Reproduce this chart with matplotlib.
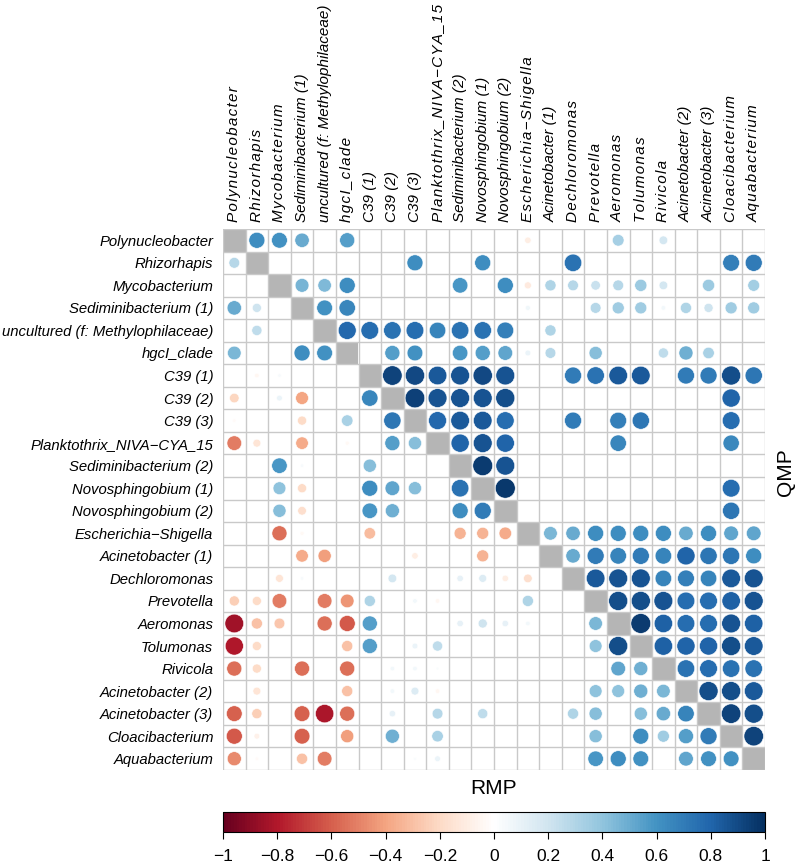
import numpy as np
import matplotlib
matplotlib.use("Agg")
import matplotlib.pyplot as plt
from matplotlib.colors import LinearSegmentedColormap, Normalize
from matplotlib.patches import Circle, Rectangle
from matplotlib.colorbar import ColorbarBase

plt.rcParams["font.family"] = ["Liberation Sans", "DejaVu Sans"]

taxa = [
    "Polynucleobacter", "Rhizorhapis", "Mycobacterium", "Sediminibacterium (1)",
    "uncultured (f: Methylophilaceae)", "hgcI_clade", "C39 (1)", "C39 (2)", "C39 (3)",
    "Planktothrix_NIVA\u2212CYA_15", "Sediminibacterium (2)", "Novosphingobium (1)",
    "Novosphingobium (2)", "Escherichia\u2212Shigella", "Acinetobacter (1)", "Dechloromonas",
    "Prevotella", "Aeromonas", "Tolumonas", "Rivicola", "Acinetobacter (2)",
    "Acinetobacter (3)", "Cloacibacterium", "Aquabacterium",
]

# column labels that R drew with wide letter spacing
spaced = {"Polynucleobacter", "Rhizorhapis", "Mycobacterium", "hgcI_clade",
          "Planktothrix_NIVA\u2212CYA_15", "Escherichia\u2212Shigella", "Dechloromonas",
          "Prevotella", "Aeromonas", "Tolumonas", "Rivicola", "Cloacibacterium",
          "Aquabacterium"}

# upper triangle = QMP, lower triangle = RMP, nan = not significant (blank)
n = np.nan
corr = np.array([
    [1, .62, .6, .5, n, .55, n, n, n, n, n, n, n, -.1, n, n, n, .33, n, .18, n, n, n, n],
    [.28, 1, n, n, n, n, n, n, .62, n, n, .62, n, n, n, .74, n, n, n, n, n, n, .68, .7],
    [n, n, 1, .46, .44, .62, n, n, n, n, .58, n, .62, -.12, .3, .28, .22, .28, .36, .18, n, .36, n, .34],
    [.5, .2, n, 1, .6, .65, n, n, n, n, n, n, n, .06, n, n, .28, .35, .35, .05, .3, .2, .35, .35],
    [n, .25, n, n, 1, .78, .76, .74, .76, .66, .74, .74, .68, n, .3, n, n, n, n, n, n, n, n, n],
    [.45, n, n, .62, .6, 1, n, .55, .6, n, .58, .55, .52, .08, .28, n, .42, n, n, .25, .48, .32, n, n],
    [n, -.05, .03, n, n, n, 1, .92, .9, .84, .86, .9, .86, n, n, .7, .74, .84, .84, n, .7, .7, .88, .72],
    [-.22, n, .08, -.4, n, n, .65, 1, .93, .86, .86, .86, .88, n, n, n, n, n, n, n, n, n, .8, n],
    [-.03, n, n, -.2, n, .32, n, .72, 1, .78, .84, .84, .76, n, n, .7, n, .68, .72, n, n, n, .76, n],
    [-.52, -.15, n, -.38, n, -.04, n, .55, .42, 1, .8, .86, .8, n, n, n, n, .65, n, n, n, n, .64, n],
    [n, n, .58, .03, n, n, .42, n, n, n, 1, .95, .86, n, n, n, n, n, n, n, n, n, n, n],
    [n, n, .4, -.2, n, n, .62, .52, .42, n, .74, 1, .96, n, n, n, n, n, n, n, n, n, .76, n],
    [n, n, .42, -.18, n, n, .58, .48, n, n, .62, .7, 1, n, n, n, n, n, n, n, n, n, .72, n],
    [n, n, -.55, -.04, n, n, -.32, n, n, n, -.35, -.35, -.38, 1, .45, .5, .62, .62, .62, .62, .5, .62, .52, .52],
    [n, n, n, -.38, -.42, n, n, n, -.1, n, n, -.35, n, n, 1, .5, .7, .66, .7, .66, .8, .72, .72, .62],
    [n, n, -.15, .03, n, n, n, .18, n, n, .1, .15, -.1, -.18, n, 1, .84, .86, .86, .66, .68, .66, .84, .86],
    [-.25, -.2, -.52, n, -.52, -.45, .3, n, .05, -.05, n, n, n, .3, n, n, 1, .88, .88, .86, .76, .76, .82, .86],
    [-.85, -.3, -.28, n, -.55, -.62, .55, n, n, n, .1, .2, .1, .05, n, n, .45, 1, .95, .82, .76, .76, .86, .82],
    [-.8, -.2, n, n, n, -.3, .55, n, .08, .25, n, n, n, n, n, n, .4, .88, 1, .82, .8, .8, .88, .84],
    [-.55, -.2, n, -.55, n, -.55, n, .05, .05, .02, n, n, n, n, n, n, n, .52, .48, 1, .74, .76, .74, .74],
    [n, -.15, n, n, n, -.3, n, .05, .15, -.05, n, n, n, n, n, n, .4, .4, .48, .45, 1, .88, .88, .84],
    [-.6, -.25, n, -.6, -.82, -.55, n, .1, n, .28, n, .25, n, n, n, .3, .42, n, .42, .5, .66, 1, .92, .88],
    [-.62, -.08, n, -.6, n, -.42, n, .48, n, .32, n, n, n, n, n, n, .42, n, .62, .35, .55, .7, 1, .92],
    [-.48, -.03, n, -.3, -.52, n, n, n, .02, .08, n, n, n, n, n, n, .58, .62, .6, n, .52, .6, .6, 1],
])

cbar_ticks = [-1, -0.8, -0.6, -0.4, -0.2, 0, 0.2, 0.4, 0.6, 0.8, 1]

# corrplot COL2('RdBu')
rdbu = ["#67001F", "#B2182B", "#D6604D", "#F4A582", "#FDDBC7", "#FFFFFF",
        "#D1E5F0", "#92C5DE", "#4393C3", "#2166AC", "#053061"]
cmap = LinearSegmentedColormap.from_list("corrplot_rdbu", rdbu, N=200)
norm = Normalize(-1, 1)

W, H = 797, 865
fig = plt.figure(figsize=(W / 100, H / 100), dpi=100)
ax = fig.add_axes([223 / W, 1 - 770 / H, 542 / W, 541 / H])

N = len(taxa)
for i in range(N):
    for j in range(N):
        if i == j:
            ax.add_patch(Rectangle((j, i), 1, 1, facecolor="#b5b5b5", edgecolor="none", zorder=1))
            continue
        r = corr[i, j]
        if np.isnan(r):
            continue
        ax.add_patch(Circle((j + 0.5, i + 0.5), 0.45 * np.sqrt(abs(r)),
                            facecolor=cmap(norm(r)), edgecolor="white", lw=0.4, zorder=3))

# grid
for k in range(N + 1):
    ax.plot([0, N], [k, k], color="#c9c9c9", lw=1.0, zorder=2)
    ax.plot([k, k], [0, N], color="#c9c9c9", lw=1.0, zorder=2)

ax.set_xlim(0, N)
ax.set_ylim(N, 0)
for s in ax.spines.values():
    s.set_visible(False)

col_labels = ["\u200a".join(t) if t in spaced else t for t in taxa]
ax.set_xticks(np.arange(N) + 0.5)
ax.set_xticklabels(col_labels, rotation=90, fontstyle="italic", fontsize=11)
ax.set_yticks(np.arange(N) + 0.5)
ax.set_yticklabels(taxa, fontstyle="italic", fontsize=10.75)
ax.xaxis.tick_top()
ax.tick_params(axis="x", length=0, pad=5)
ax.tick_params(axis="y", length=0, pad=7)

fig.text(786 / W, 1 - 472 / H, "QMP", rotation=90, ha="center", va="center", fontsize=15)
fig.text(494 / W, 1 - 789 / H, "RMP", ha="center", va="center", fontsize=15)

# colour legend
cax = fig.add_axes([223 / W, 1 - 832 / H, 542 / W, 20 / H])
cb = ColorbarBase(cax, cmap=cmap, norm=norm, orientation="horizontal", ticks=cbar_ticks)
cb.set_ticklabels([("%g" % t).replace("-", "\u2212") for t in cbar_ticks])
cb.outline.set_linewidth(0.8)
cax.tick_params(length=5, width=0.8, labelsize=12.5, pad=7)

fig.savefig("out.png", dpi=100)
